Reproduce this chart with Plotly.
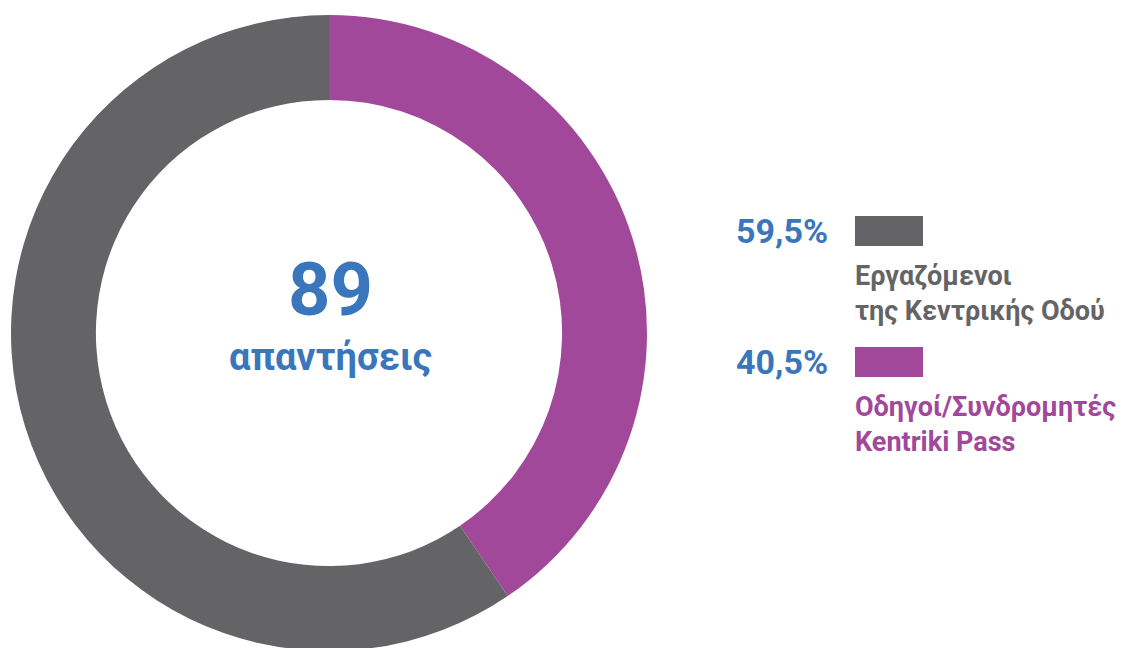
import plotly.graph_objects as go

# data
labels = ["Εργαζόμενοι<br>της Κεντρικής Οδού", "Οδηγοί/Συνδρομητές<br>Kentriki Pass"]
values = [59.5, 40.5]
pct_text = ["59,5%", "40,5%"]
total = 89
total_label = "απαντήσεις"

COLORS = {"grey": "#646466", "purple": "#a2489a", "blue": "#3a76bb"}
slice_colors = [COLORS["grey"], COLORS["purple"]]
FONT = "Roboto, sans-serif"

W, H = 1128, 650
OFF = 8  # page body margin


def px(x):
    return (x - OFF) / W


def py(y):
    return 1 - (y - OFF) / H


# purple goes clockwise from 12 o'clock, grey takes the rest
fig = go.Figure(go.Pie(
    values=values[::-1],
    labels=labels[::-1],
    hole=0.733,
    sort=False,
    direction="clockwise",
    rotation=0,
    marker=dict(colors=slice_colors[::-1], line=dict(width=0)),
    textinfo="none",
    hoverinfo="label+percent",
    domain=dict(x=[px(11), px(647)], y=[0, 1]),
    showlegend=False,
))

ann = [
    dict(x=px(330), y=py(289), text=f"<b>{total}</b>",
         font=dict(size=74, color=COLORS["blue"], family=FONT)),
    dict(x=px(330), y=py(357), text=f"<b>{total_label}</b>",
         font=dict(size=38, color=COLORS["blue"], family=FONT)),
]

shapes = []
rows = [231, 362]
for i, (lab, pct, col) in enumerate(zip(labels, pct_text, slice_colors)):
    yc = rows[i]
    ann.append(dict(x=px(830), y=py(yc), text=f"<b>{pct}</b>", xanchor="right",
                    font=dict(size=34, color=COLORS["blue"], family=FONT)))
    shapes.append(dict(type="rect", xref="paper", yref="paper",
                       x0=px(855), x1=px(923), y0=py(yc + 15), y1=py(yc - 15),
                       fillcolor=col, line=dict(width=0)))
    ann.append(dict(x=px(853), y=py(yc + 27), text=f"<b>{lab}</b>", xanchor="left",
                    yanchor="top", align="left",
                    font=dict(size=27, color=col, family=FONT)))

for a in ann:
    a.setdefault("xref", "paper")
    a.setdefault("yref", "paper")
    a.setdefault("showarrow", False)
    a.setdefault("xanchor", "center")
    a.setdefault("yanchor", "middle")

fig.update_layout(
    width=W, height=H,
    margin=dict(t=0, b=0, l=0, r=0),
    paper_bgcolor="white",
    plot_bgcolor="white",
    annotations=ann,
    shapes=shapes,
)

fig.write_html("out.html")
